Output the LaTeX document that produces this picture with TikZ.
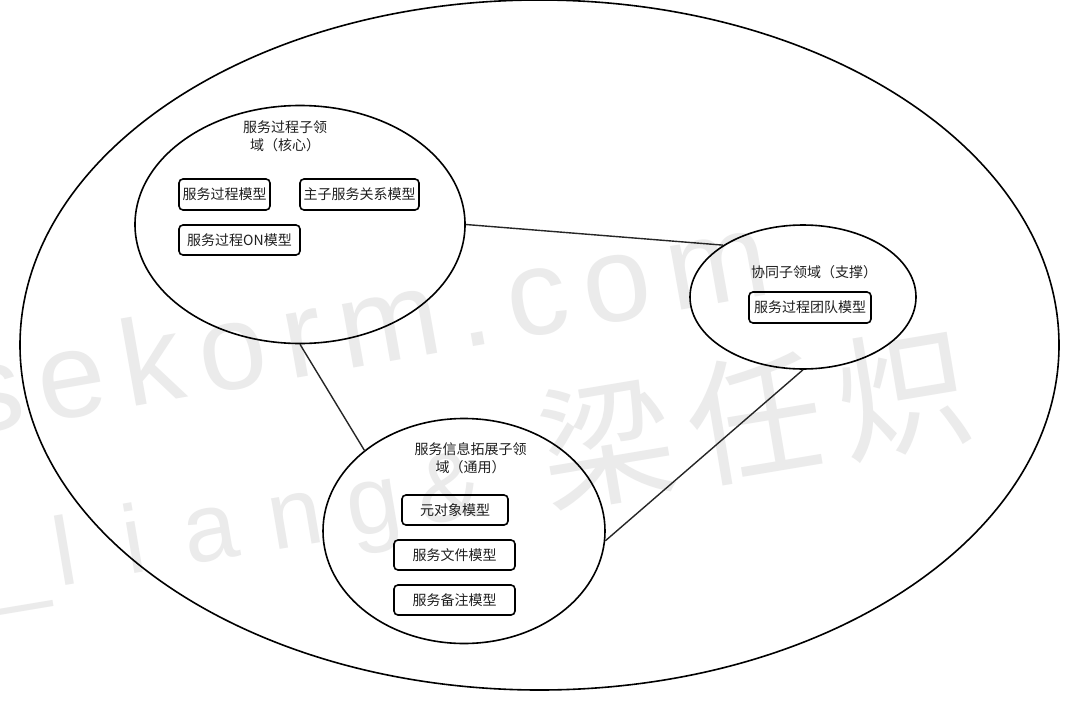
\documentclass[tikz,border=0pt]{standalone}
\usepackage{fontspec}
\setmainfont{Liberation Sans}
\newfontfamily\cjk{Noto Sans CJK SC}
\usetikzlibrary{shapes.geometric}

\tikzset{
  areashape/.style={draw, ellipse, line width=1.6pt, inner sep=0pt},
  modelbox/.style={draw, rounded corners=4pt, line width=1.6pt, inner sep=0pt,
    font=\cjk\fontsize{14}{16}\selectfont, text=black!88},
  arealabel/.style={font=\cjk\fontsize{14}{18}\selectfont, align=center,
    text=black!88, inner sep=0pt},
  link/.style={line width=1.4pt, draw=black!85},
  wmark/.style={text=black!8, inner sep=0pt, anchor=base west}
}

\begin{document}
\begin{tikzpicture}[x=1pt,y=-1pt]
\useasboundingbox (0,0) rectangle (1089,701);
\fill[white] (0,0) rectangle (1089,701);

% faint watermark, two tilted lines
\node[wmark, rotate=10,
  font=\fontsize{122}{122}\selectfont\addfontfeature{LetterSpace=14}]
  (wm1) at (-32,436) {sekorm.com};
\node[wmark, rotate=9.5] (wm2) at (-4,597)
  {{\fontsize{97}{97}\selectfont
    \_\hspace{10pt}l\hspace{49pt}i\hspace{39pt}a\hspace{32pt}n\hspace{25pt}g\hspace{19pt}\&}%
   \hspace{62pt}%
   {\cjk\fontsize{135}{135}\selectfont 梁\hspace{16pt}任\hspace{16pt}炽}};

% whole system and its three sub-domains
\node[areashape, minimum width=1039pt, minimum height=690pt] (sys) at (539.5,345) {};
\node[areashape, minimum width=330pt, minimum height=238pt] (core) at (300,224.5) {};
\node[areashape, minimum width=226pt, minimum height=144pt] (supp) at (803,297) {};
\node[areashape, minimum width=282pt, minimum height=225pt] (gen) at (464,531) {};

% sub-domain titles
\node[arealabel] (coreL) at (285,136) {服务过程子领\\域（核心）};
\node[arealabel] (suppL) at (814,272) {协同子领域（支撑）};
\node[arealabel] (genL) at (470.5,458.5) {服务信息拓展子领\\域（通用）};

% models
\node[modelbox, minimum width=91pt, minimum height=31pt] (m1) at (224.5,194.5) {服务过程模型};
\node[modelbox, minimum width=119pt, minimum height=31pt] (m2) at (359.5,194.5) {主子服务关系模型};
\node[modelbox, minimum width=121pt, minimum height=30pt] (m3) at (239.5,240) {服务过程ON模型};
\node[modelbox, minimum width=122pt, minimum height=31pt] (m4) at (810,307.5) {服务过程团队模型};
\node[modelbox, minimum width=106pt, minimum height=30pt] (m5) at (455,510) {元对象模型};
\node[modelbox, minimum width=121pt, minimum height=30pt] (m6) at (454.5,555) {服务文件模型};
\node[modelbox, minimum width=121pt, minimum height=30pt] (m7) at (454.5,600) {服务备注模型};

% relations between sub-domains
\draw[link] (core.east) -- (supp.147.8);
\draw[link] (core.south) -- (gen.141.3);
\draw[link] (supp.south) -- (gen.-4.5);
\end{tikzpicture}
\end{document}
